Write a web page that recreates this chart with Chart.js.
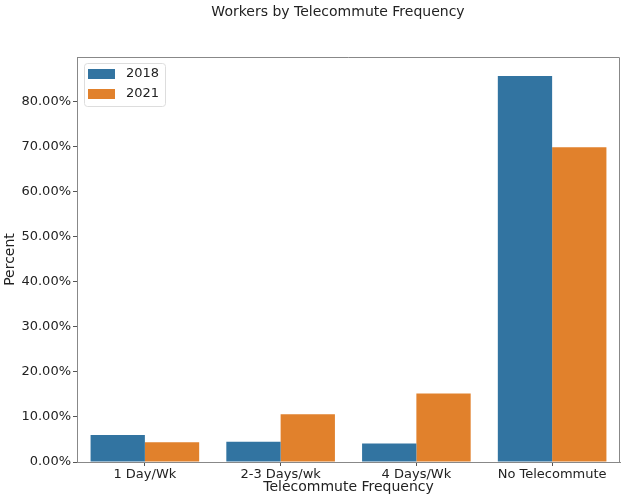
<!DOCTYPE html>
<html>
<head>
<meta charset="utf-8">
<script src="https://cdn.jsdelivr.net/npm/chart.js@4"></script>
<style>
  html, body { margin: 0; padding: 0; background: #fff; }
  #wrap { width: 624px; height: 500px; }
</style>
</head>
<body>
<div id="wrap"><canvas id="chart"></canvas></div>
<script>
const categories = ['1 Day/Wk', '2-3 Days/wk', '4 Days/Wk', 'No Telecommute'];
const years = ['2018', '2021'];
const values2018 = [6.0, 4.5, 4.1, 85.6];
const values2021 = [4.4, 10.6, 15.2, 69.8];
const yTicks = [0, 10, 20, 30, 40, 50, 60, 70, 80];
const colors = ['#3274a1', '#e1812c'];

const FONT = "'DejaVu Sans', sans-serif";
const TEXT = '#222';

// frame, title and inside legend, drawn by hand
const extras = {
  id: 'extras',
  afterDraw(chart) {
    const { ctx, chartArea: a } = chart;
    ctx.save();
    ctx.strokeStyle = '#888';
    ctx.lineWidth = 1;
    ctx.beginPath();
    ctx.moveTo(a.left, a.top + 0.5);
    ctx.lineTo(a.right - 0.5, a.top + 0.5);
    ctx.lineTo(a.right - 0.5, a.bottom);
    ctx.stroke();

    ctx.fillStyle = TEXT;
    ctx.font = '14px ' + FONT;
    ctx.textAlign = 'center';
    ctx.textBaseline = 'middle';
    ctx.fillText('Workers by Telecommute Frequency', 338, 12);

    // legend
    const lx = a.left + 7, ly = a.top + 6;
    ctx.beginPath();
    ctx.roundRect(lx + 0.5, ly + 0.5, 81, 43, 3);
    ctx.fillStyle = 'rgba(255,255,255,0.8)';
    ctx.fill();
    ctx.strokeStyle = '#ddd';
    ctx.stroke();
    ctx.font = '13px ' + FONT;
    ctx.textAlign = 'left';
    chart.data.datasets.forEach((ds, i) => {
      const y = ly + 6 + i * 20;
      ctx.fillStyle = ds.backgroundColor;
      ctx.fillRect(lx + 4, y, 27, 10);
      ctx.fillStyle = TEXT;
      ctx.fillText(ds.label, lx + 42, y + 5);
    });
    ctx.restore();
  }
};

new Chart(document.getElementById('chart'), {
  type: 'bar',
  data: {
    labels: categories,
    datasets: [
      { label: years[0], data: values2018, backgroundColor: colors[0] },
      { label: years[1], data: values2021, backgroundColor: colors[1] }
    ]
  },
  options: {
    responsive: true,
    maintainAspectRatio: false,
    animation: false,
    datasets: { bar: { categoryPercentage: 0.8, barPercentage: 1.0 } },
    layout: { padding: { top: 57, right: 4, left: 0, bottom: 0 } },
    plugins: {
      legend: { display: false },
      title: { display: false },
      tooltip: { enabled: false }
    },
    scales: {
      x: {
        afterFit: s => { s.height = 38; },
        grid: { drawOnChartArea: false, offset: false, tickLength: 4, color: '#555' },
        border: { color: '#888' },
        ticks: { color: TEXT, font: { family: FONT, size: 13 }, padding: 1, maxRotation: 0 },
        title: { display: true, text: 'Telecommute Frequency', color: TEXT,
                 font: { family: FONT, size: 14 }, padding: { top: 0, bottom: 4 } }
      },
      y: {
        min: 0,
        max: 89.8,
        afterFit: s => { s.width = 77; },
        afterBuildTicks: s => { s.ticks = yTicks.map(v => ({ value: v })); },
        grid: { drawOnChartArea: false, tickLength: 4, color: '#555' },
        border: { color: '#888' },
        ticks: {
          color: TEXT, font: { family: FONT, size: 13 }, padding: 2,
          callback: v => v.toFixed(2) + '%'
        },
        title: { display: true, text: 'Percent', color: TEXT,
                 font: { family: FONT, size: 14 }, padding: { top: 2, bottom: 0 } }
      }
    }
  },
  plugins: [extras]
});
</script>
</body>
</html>
